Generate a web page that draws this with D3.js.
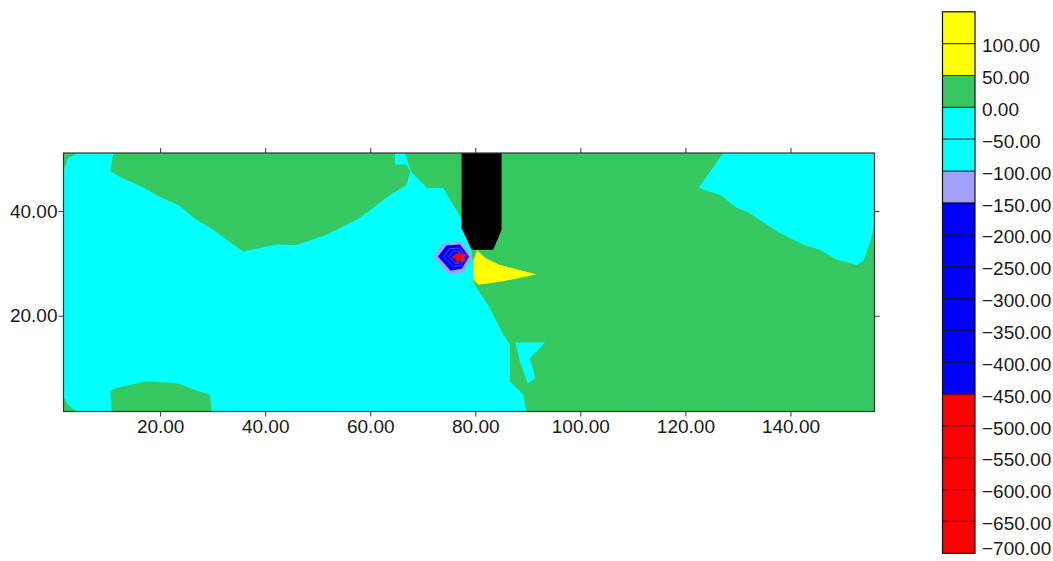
<!DOCTYPE html>
<html>
<head>
<meta charset="utf-8">
<script src="https://cdnjs.cloudflare.com/ajax/libs/d3/7.8.5/d3.min.js"></script>
<style>
body { margin:0; background:#fff; }
svg { display:block; font-family:"Liberation Sans", Arial, sans-serif; }
.axis text { font-size:19px; fill:#1a1a1a; }
.axis path { display:none; }
.axis line { stroke:#333; }
.cbLabel { font-size:19px; fill:#1a1a1a; }
</style>
</head>
<body>
<svg id="chart" width="1053" height="561"></svg>
<script>
var xTicks = [20,40,60,80,100,120,140];
var yTicks = [20,40];
var xDomain = [1.6,156.0];
var yDomain = [1.7,51.1];

// contour levels of the colour bar, top to bottom
var levels = [150,100,50,0,-50,-100,-150,-200,-250,-300,-350,-400,-450,-500,-550,-600,-650,-700];
var bandColors = [
    "#ffff00","#ffff00",
    "#36c860",
    "#00ffff","#00ffff",
    "#a0a0fa",
    "#0000ff","#0000ff","#0000ff","#0000ff","#0000ff","#0000ff",
    "#ff0000","#ff0000","#ff0000","#ff0000","#ff0000"
];

// filled regions (x, y in data units)
var backgroundValue = 20;
var cyanMain = [[1.6,51.1],[66.6,51.1],[67.8,47.5],[70.8,44.4],[73.9,44.4],[77.5,38.3],[77.5,36.8],
    [79.3,32.6],[79.5,30.4],[79.6,26.6],[80.3,25.3],[82.8,21.5],[85.3,16.4],[86.6,14.5],
    [86.6,7.5],[89.1,4.9],[89.8,1.7],[1.6,1.7]];
var cyanTopRight = [[127.2,51.1],[156.0,51.1],[156.0,38.5],[155.7,36.0],[154.8,33.0],[153.9,30.5],
    [152.6,29.7],[150.5,30.3],[148.8,30.7],[145.6,32.6],[142.4,33.6],[138.0,35.8],[131.7,39.9],
    [129.8,40.6],[126.6,43.1],[124.7,43.7],[122.5,44.4],[123.4,45.7]];
var cyanIsland = [[87.6,14.9],[93.3,14.9],[90.4,11.9],[91.4,8.1],[90.0,7.0],[88.5,11.2]];
var greenTop = [[11.1,51.1],[10.5,47.6],[12.4,46.5],[16.8,44.5],[20.0,42.7],[23.5,41.1],[27.0,38.3],
    [29.5,36.8],[35.8,32.3],[42.2,33.6],[46.0,33.5],[51.7,35.5],[58.0,38.7],[63.8,43.1],
    [66.9,45.0],[67.6,47.6],[66.9,48.9],[64.7,48.9],[64.7,51.1]];
var greenBottom = [[10.8,1.7],[10.5,5.6],[11.7,6.2],[17.4,7.5],[23.2,7.1],[26.3,5.9],[29.5,4.9],[29.8,1.7]];
var greenCornerTL = [[1.6,51.1],[4.2,51.1],[2.5,50.1],[1.6,47.9]];
var greenCornerBL = [[1.6,4.5],[2.5,2.9],[4.1,1.7],[1.6,1.7]];
var yellowTongue = [[80.3,32.5],[82.0,31.0],[84.7,29.7],[91.7,27.9],[85.3,26.6],[80.6,25.9],[79.6,26.9],[79.6,30.4]];
var lavenderRing = [[72.1,31.3],[73.8,33.8],[77.2,34.2],[79.4,31.3],[77.7,28.3],[74.9,28.0]];
var blueCore = [[72.9,31.3],[74.5,33.4],[77.1,33.6],[78.8,31.3],[77.4,29.0],[75.3,28.6]];
var redCore = [[75.4,31.2],[76.4,31.8],[76.9,32.3],[77.3,31.7],[78.4,31.8],[77.8,31.0],
    [78.4,30.3],[77.1,30.5],[76.4,30.1],[76.4,30.8]];
var blueRing250 = [[74.0,31.3],[75.1,32.8],[77.0,32.9],[78.2,31.3],[77.3,29.6],[75.8,29.4]];
var blueRing350 = [[75.0,31.3],[75.7,32.3],[77.0,32.4],[77.8,31.3],[77.2,30.1],[76.2,30.0]];
var obstacle = [[77.4,51.1],[77.4,36.7],[79.3,32.6],[83.4,32.6],[85.0,36.4],[85.0,51.1]];

var regions = [
    {value:-40, pts:cyanMain},
    {value:-40, pts:cyanTopRight},
    {value:-40, pts:cyanIsland},
    {value:20, pts:greenTop},
    {value:20, pts:greenBottom},
    {value:20, pts:greenCornerTL},
    {value:20, pts:greenCornerBL},
    {value:70, pts:yellowTongue},
    {value:-120, pts:lavenderRing},
    {value:-300, pts:blueCore},
    {value:-550, pts:redCore}
];
var innerLines = [blueRing250, blueRing350];

var svg = d3.select("#chart");

var x = d3.scaleLinear().domain(xDomain).range([63.5,874.5]);
var y = d3.scaleLinear().domain(yDomain).range([411.5,153]);

// threshold scale: ascending inner levels -> colours bottom to top
var color = d3.scaleThreshold()
    .domain(levels.slice(1,-1).reverse())
    .range(bandColors.slice().reverse());

var line = d3.line()
    .x(function(d){ return x(d[0]); })
    .y(function(d){ return y(d[1]); })
    .curve(d3.curveLinearClosed);

svg.append("defs").append("clipPath")
    .attr("id","plotClip")
  .append("rect")
    .attr("x",x(xDomain[0]))
    .attr("y",y(yDomain[1]))
    .attr("width",x(xDomain[1])-x(xDomain[0]))
    .attr("height",y(yDomain[0])-y(yDomain[1]));

var plot = svg.append("g").attr("clip-path","url(#plotClip)");

plot.append("rect")
    .attr("x",x(xDomain[0]))
    .attr("y",y(yDomain[1]))
    .attr("width",x(xDomain[1])-x(xDomain[0]))
    .attr("height",y(yDomain[0])-y(yDomain[1]))
    .attr("fill",color(backgroundValue));

plot.selectAll(".region")
    .data(regions)
  .enter().append("path")
    .attr("class","region")
    .attr("d",function(d){ return line(d.pts); })
    .attr("fill",function(d){ return color(d.value); });

plot.selectAll(".inner")
    .data(innerLines)
  .enter().append("path")
    .attr("class","inner")
    .attr("d",line)
    .attr("fill","none")
    .attr("stroke","#5a5aff")
    .attr("stroke-width",0.8);

plot.append("path")
    .attr("d",line(obstacle))
    .attr("fill","#000");

// frame
svg.append("rect")
    .attr("x",x(xDomain[0]))
    .attr("y",y(yDomain[1]))
    .attr("width",x(xDomain[1])-x(xDomain[0]))
    .attr("height",y(yDomain[0])-y(yDomain[1]))
    .attr("fill","none")
    .attr("stroke","#333")
    .attr("stroke-width",1.2);

var fmt = d3.format(".2f");

svg.append("g")
    .attr("class","axis")
    .attr("transform","translate(0,"+y(yDomain[0])+")")
    .call(d3.axisBottom(x).tickValues(xTicks).tickFormat(fmt).tickSize(5).tickPadding(3));

svg.append("g")
    .attr("class","axis")
    .attr("transform","translate(0,"+y(yDomain[1])+")")
    .call(d3.axisTop(x).tickValues(xTicks).tickFormat("").tickSize(5));

svg.append("g")
    .attr("class","axis")
    .attr("transform","translate("+x(xDomain[0])+",0)")
    .call(d3.axisLeft(y).tickValues(yTicks).tickFormat(fmt).tickSize(5).tickPadding(1));

svg.append("g")
    .attr("class","axis")
    .attr("transform","translate("+x(xDomain[1])+",0)")
    .call(d3.axisRight(y).tickValues(yTicks).tickFormat("").tickSize(5));

// colour bar
var cb = d3.scaleLinear().domain([levels[0],levels[levels.length-1]]).range([11.8,553.3]);
var cbX = 942.5, cbW = 32.5;
var bar = svg.append("g");

bar.selectAll(".band")
    .data(bandColors)
  .enter().append("rect")
    .attr("class","band")
    .attr("x",cbX)
    .attr("y",function(d,i){ return cb(levels[i]); })
    .attr("width",cbW)
    .attr("height",function(d,i){ return cb(levels[i+1])-cb(levels[i]); })
    .attr("fill",function(d){ return d; });

bar.selectAll(".sep")
    .data(levels.slice(1,-1))
  .enter().append("line")
    .attr("class","sep")
    .attr("x1",cbX).attr("x2",cbX+cbW)
    .attr("y1",function(d){ return cb(d); })
    .attr("y2",function(d){ return cb(d); })
    .attr("stroke","#000")
    .attr("stroke-opacity",0.75)
    .attr("stroke-width",1.2);

bar.append("rect")
    .attr("x",cbX).attr("y",cb(levels[0]))
    .attr("width",cbW)
    .attr("height",cb(levels[levels.length-1])-cb(levels[0]))
    .attr("fill","none")
    .attr("stroke","#111")
    .attr("stroke-width",1.2);

// labels sit on the band edges; the last one is kept inside the picture
var labels = levels.slice(1);
bar.selectAll(".cbLabel")
    .data(labels)
  .enter().append("text")
    .attr("class","cbLabel")
    .attr("x",982)
    .attr("y",function(d,i){ return i==labels.length-1 ? 548 : cb(d) + 2; })
    .attr("dy","0.35em")
    .text(fmt);
</script>
</body>
</html>
